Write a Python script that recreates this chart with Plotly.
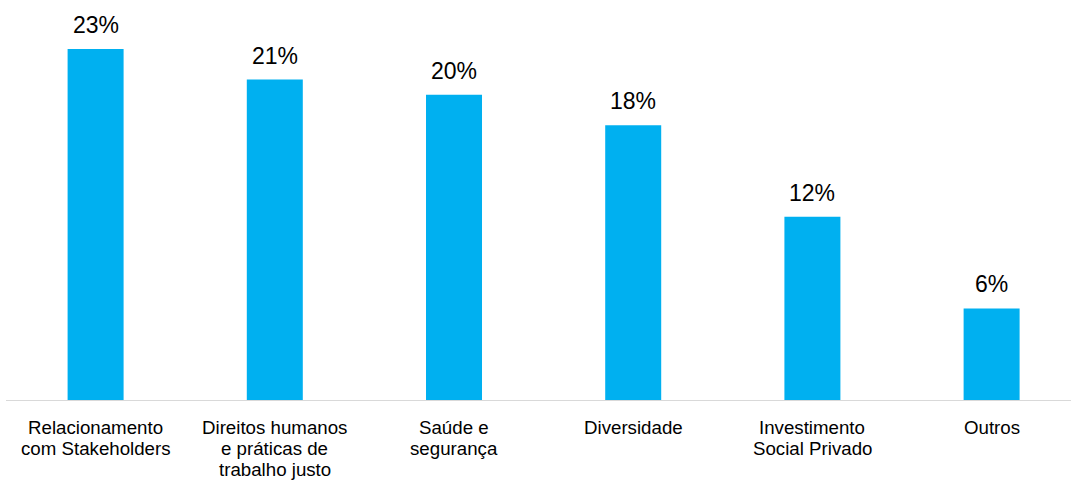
import plotly.graph_objects as go

# Temas sociais e participação (%)
categories = [
    "Relacionamento\ncom Stakeholders",
    "Direitos humanos\ne práticas de\ntrabalho justo",
    "Saúde e\nsegurança",
    "Diversidade",
    "Investimento\nSocial Privado",
    "Outros",
]
values = [23, 21, 20, 18, 12, 6]

BAR_COLOR = "#00B0F0"
FONT = "Liberation Sans, Arial, sans-serif"

fig = go.Figure(
    go.Bar(
        x=categories,
        y=values,
        marker=dict(color=BAR_COLOR, line=dict(width=0)),
        hoverinfo="skip",
    )
)

annotations = []
# value labels above each bar
for cat, v in zip(categories, values):
    annotations.append(dict(
        x=cat, y=v, xref="x", yref="y",
        text=f"{v}%", showarrow=False,
        yanchor="bottom", yshift=9,
        font=dict(family=FONT, size=23, color="#000000"),
    ))
# multi-line category labels under the axis
LINE_STEP = 21
for cat in categories:
    for i, line in enumerate(cat.split("\n")):
        annotations.append(dict(
            x=cat, y=0, xref="x", yref="paper",
            text=line, showarrow=False,
            yanchor="middle", yshift=-27 - i * LINE_STEP,
            font=dict(family=FONT, size=18.7, color="#000000"),
        ))

fig.update_layout(
    width=1071, height=485,
    margin=dict(l=6, r=0, t=20, b=85),
    paper_bgcolor="white", plot_bgcolor="white",
    bargap=0.6875,
    showlegend=False,
    annotations=annotations,
    xaxis=dict(
        type="category",
        range=[-0.5, 5.443],
        showticklabels=False,
        showgrid=False, zeroline=False,
        showline=True, linecolor="#d9d9d9", linewidth=1.3,
        ticks="",
    ),
    yaxis=dict(
        range=[0, 24.9],
        visible=False, showgrid=False, zeroline=False,
    ),
)

fig.write_html("out.html")
